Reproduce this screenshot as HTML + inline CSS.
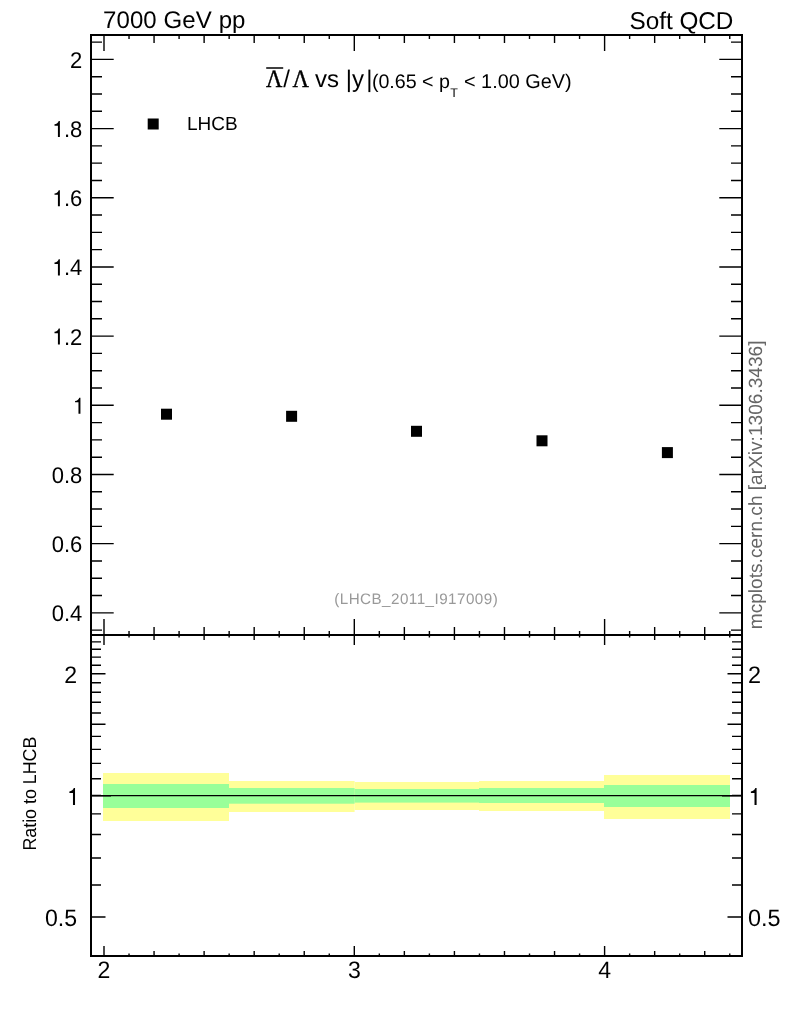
<!DOCTYPE html>
<html><head><meta charset="utf-8"><title>plot</title>
<style>html,body{margin:0;padding:0;background:#fff;}svg{display:block;}text{font-family:"Liberation Sans",sans-serif;}svg{will-change:transform;}text{text-rendering:geometricPrecision;}</style></head>
<body>
<svg width="786" height="1024" viewBox="0 0 786 1024">
<rect x="0" y="0" width="786" height="1024" fill="#fff"/>
<rect x="103" y="773" width="126.00" height="48.00" fill="#ffff99"/>
<rect x="229" y="781" width="125.60" height="31.00" fill="#ffff99"/>
<rect x="354.6" y="782" width="124.40" height="28.00" fill="#ffff99"/>
<rect x="479" y="781" width="125.00" height="30.00" fill="#ffff99"/>
<rect x="604" y="775" width="126.00" height="44.00" fill="#ffff99"/>
<rect x="103" y="784" width="126.00" height="24.00" fill="#99ff99"/>
<rect x="229" y="788" width="125.60" height="15.70" fill="#99ff99"/>
<rect x="354.6" y="789" width="124.40" height="13.60" fill="#99ff99"/>
<rect x="479" y="788" width="125.00" height="15.00" fill="#99ff99"/>
<rect x="604" y="785" width="126.00" height="22.00" fill="#99ff99"/>
<path d="M91.00 630.13H102.00M731.00 630.13H742.00M91.00 612.84H113.70M719.30 612.84H742.00M91.00 595.54H102.00M731.00 595.54H742.00M91.00 578.25H102.00M731.00 578.25H742.00M91.00 560.95H102.00M731.00 560.95H742.00M91.00 543.66H113.70M719.30 543.66H742.00M91.00 526.37H102.00M731.00 526.37H742.00M91.00 509.07H102.00M731.00 509.07H742.00M91.00 491.77H102.00M731.00 491.77H742.00M91.00 474.48H113.70M719.30 474.48H742.00M91.00 457.18H102.00M731.00 457.18H742.00M91.00 439.89H102.00M731.00 439.89H742.00M91.00 422.59H102.00M731.00 422.59H742.00M91.00 405.30H113.70M719.30 405.30H742.00M91.00 388.00H102.00M731.00 388.00H742.00M91.00 370.71H102.00M731.00 370.71H742.00M91.00 353.41H102.00M731.00 353.41H742.00M91.00 336.12H113.70M719.30 336.12H742.00M91.00 318.82H102.00M731.00 318.82H742.00M91.00 301.53H102.00M731.00 301.53H742.00M91.00 284.23H102.00M731.00 284.23H742.00M91.00 266.94H113.70M719.30 266.94H742.00M91.00 249.64H102.00M731.00 249.64H742.00M91.00 232.35H102.00M731.00 232.35H742.00M91.00 215.05H102.00M731.00 215.05H742.00M91.00 197.76H113.70M719.30 197.76H742.00M91.00 180.46H102.00M731.00 180.46H742.00M91.00 163.17H102.00M731.00 163.17H742.00M91.00 145.88H102.00M731.00 145.88H742.00M91.00 128.58H113.70M719.30 128.58H742.00M91.00 111.28H102.00M731.00 111.28H742.00M91.00 93.99H102.00M731.00 93.99H742.00M91.00 76.69H102.00M731.00 76.69H742.00M91.00 59.40H113.70M719.30 59.40H742.00M91.00 42.10H102.00M731.00 42.10H742.00M104.00 35.00V51.00M104.00 619.00V645.00M104.00 946.00V956.00M129.03 35.00V39.00M129.03 631.00V637.50M129.03 953.50V956.00M154.06 35.00V43.00M154.06 627.00V640.00M154.06 951.00V956.00M179.09 35.00V39.00M179.09 631.00V637.50M179.09 953.50V956.00M204.12 35.00V43.00M204.12 627.00V640.00M204.12 951.00V956.00M229.15 35.00V39.00M229.15 631.00V637.50M229.15 953.50V956.00M254.18 35.00V43.00M254.18 627.00V640.00M254.18 951.00V956.00M279.21 35.00V39.00M279.21 631.00V637.50M279.21 953.50V956.00M304.24 35.00V43.00M304.24 627.00V640.00M304.24 951.00V956.00M329.27 35.00V39.00M329.27 631.00V637.50M329.27 953.50V956.00M354.30 35.00V51.00M354.30 619.00V645.00M354.30 946.00V956.00M379.33 35.00V39.00M379.33 631.00V637.50M379.33 953.50V956.00M404.36 35.00V43.00M404.36 627.00V640.00M404.36 951.00V956.00M429.39 35.00V39.00M429.39 631.00V637.50M429.39 953.50V956.00M454.42 35.00V43.00M454.42 627.00V640.00M454.42 951.00V956.00M479.45 35.00V39.00M479.45 631.00V637.50M479.45 953.50V956.00M504.48 35.00V43.00M504.48 627.00V640.00M504.48 951.00V956.00M529.51 35.00V39.00M529.51 631.00V637.50M529.51 953.50V956.00M554.54 35.00V43.00M554.54 627.00V640.00M554.54 951.00V956.00M579.57 35.00V39.00M579.57 631.00V637.50M579.57 953.50V956.00M604.60 35.00V51.00M604.60 619.00V645.00M604.60 946.00V956.00M629.63 35.00V39.00M629.63 631.00V637.50M629.63 953.50V956.00M654.66 35.00V43.00M654.66 627.00V640.00M654.66 951.00V956.00M679.69 35.00V39.00M679.69 631.00V637.50M679.69 953.50V956.00M704.72 35.00V43.00M704.72 627.00V640.00M704.72 951.00V956.00M729.75 35.00V39.00M729.75 631.00V637.50M729.75 953.50V956.00M91.00 916.99H101.00M732.00 916.99H742.00M91.00 916.99H105.50M727.50 916.99H742.00M91.00 885.00H101.00M732.00 885.00H742.00M91.00 857.96H101.00M732.00 857.96H742.00M91.00 834.54H101.00M732.00 834.54H742.00M91.00 813.88H101.00M732.00 813.88H742.00M91.00 795.40H101.00M732.00 795.40H742.00M91.00 795.80H111.00M722.00 795.80H742.00M91.00 778.68H101.00M732.00 778.68H742.00M91.00 763.42H101.00M732.00 763.42H742.00M91.00 749.38H101.00M732.00 749.38H742.00M91.00 736.38H101.00M732.00 736.38H742.00M91.00 724.28H101.00M732.00 724.28H742.00M91.00 724.28H105.50M727.50 724.28H742.00M91.00 712.96H101.00M732.00 712.96H742.00M91.00 702.32H101.00M732.00 702.32H742.00M91.00 692.30H101.00M732.00 692.30H742.00M91.00 682.81H101.00M732.00 682.81H742.00M91.00 673.81H101.00M732.00 673.81H742.00M91.00 673.81H105.50M727.50 673.81H742.00M91.00 665.26H101.00M732.00 665.26H742.00M91.00 657.10H101.00M732.00 657.10H742.00M91.00 649.30H101.00M732.00 649.30H742.00M91.00 641.83H101.00M732.00 641.83H742.00" stroke="#000" stroke-width="1.4" fill="none"/>
<path d="M91.0 795.5H742.0" stroke="#000" stroke-width="1.25" fill="none"/>
<path d="M91.0 35.0H742.0V956.0H91.0Z M91.0 635.0H742.0" stroke="#000" stroke-width="2" fill="none" stroke-linejoin="miter"/>
<rect x="161.00" y="408.70" width="11" height="11" fill="#000"/>
<rect x="286.10" y="410.80" width="11" height="11" fill="#000"/>
<rect x="411.00" y="425.80" width="11" height="11" fill="#000"/>
<rect x="536.50" y="435.30" width="11" height="11" fill="#000"/>
<rect x="661.90" y="447.10" width="11" height="11" fill="#000"/>
<rect x="147.70" y="118.50" width="11" height="11" fill="#000"/>
<g transform="translate(82.30 621.34) scale(1.0 1.03)"><text x="-30.58" y="0" font-size="22">0.4</text></g>
<g transform="translate(82.30 552.16) scale(1.0 1.03)"><text x="-30.58" y="0" font-size="22">0.6</text></g>
<g transform="translate(82.30 482.98) scale(1.0 1.03)"><text x="-30.58" y="0" font-size="22">0.8</text></g>
<g transform="translate(84.50 413.80) scale(1.0 1.03)"><path transform="translate(-12.23 0) scale(0.02200 -0.02200)" d="M282 0V505H127V567C225 575 293 630 318 709H371V0Z" fill="#000"/></g>
<g transform="translate(82.30 344.62) scale(1.0 1.03)"><path transform="translate(-30.58 0) scale(0.02200 -0.02200)" d="M282 0V505H127V567C225 575 293 630 318 709H371V0Z" fill="#000"/><text x="-18.35" y="0" font-size="22">.2</text></g>
<g transform="translate(82.30 275.44) scale(1.0 1.03)"><path transform="translate(-30.58 0) scale(0.02200 -0.02200)" d="M282 0V505H127V567C225 575 293 630 318 709H371V0Z" fill="#000"/><text x="-18.35" y="0" font-size="22">.4</text></g>
<g transform="translate(82.30 206.26) scale(1.0 1.03)"><path transform="translate(-30.58 0) scale(0.02200 -0.02200)" d="M282 0V505H127V567C225 575 293 630 318 709H371V0Z" fill="#000"/><text x="-18.35" y="0" font-size="22">.6</text></g>
<g transform="translate(82.30 137.08) scale(1.0 1.03)"><path transform="translate(-30.58 0) scale(0.02200 -0.02200)" d="M282 0V505H127V567C225 575 293 630 318 709H371V0Z" fill="#000"/><text x="-18.35" y="0" font-size="22">.8</text></g>
<g transform="translate(82.30 67.90) scale(1.0 1.03)"><text x="-12.23" y="0" font-size="22">2</text></g>
<g transform="translate(77.00 683.31) scale(1.0 1.03)"><text x="-12.84" y="0" font-size="23.1">2</text></g>
<g transform="translate(747.90 683.31) scale(1.015 1.03)"><text x="0.00" y="0" font-size="23.1">2</text></g>
<g transform="translate(79.30 804.90) scale(1.0 1.03)"><path transform="translate(-12.84 0) scale(0.02310 -0.02310)" d="M282 0V505H127V567C225 575 293 630 318 709H371V0Z" fill="#000"/></g>
<g transform="translate(747.90 804.90) scale(1.015 1.03)"><path transform="translate(0.00 0) scale(0.02310 -0.02310)" d="M282 0V505H127V567C225 575 293 630 318 709H371V0Z" fill="#000"/></g>
<g transform="translate(77.00 926.49) scale(1.0 1.03)"><text x="-32.11" y="0" font-size="23.1">0.5</text></g>
<g transform="translate(747.90 926.49) scale(1.015 1.03)"><text x="0.00" y="0" font-size="23.1">0.5</text></g>
<g transform="translate(104.00 978.20) scale(1.0 1.03)"><text x="-6.42" y="0" font-size="23.1">2</text></g>
<g transform="translate(354.30 978.20) scale(1.0 1.03)"><text x="-6.42" y="0" font-size="23.1">3</text></g>
<g transform="translate(604.60 978.20) scale(1.0 1.03)"><text x="-6.42" y="0" font-size="23.1">4</text></g>
<text x="103.00" y="28.20" font-size="24" text-anchor="start" fill="#000" font-family="'Liberation Sans', sans-serif" letter-spacing="0.1">7000 GeV pp</text>
<text x="733.40" y="28.70" font-size="24.3" text-anchor="end" fill="#000" font-family="'Liberation Sans', sans-serif" >Soft QCD</text>
<text x="187.00" y="130.00" font-size="19" text-anchor="start" fill="#000" font-family="'Liberation Sans', sans-serif" >LHCB</text>
<text x="416.20" y="603.70" font-size="15.2" text-anchor="middle" fill="#999" font-family="'Liberation Sans', sans-serif" letter-spacing="0.47">(LHCB_2011_I917009)</text>
<text transform="translate(762.1 629.2) rotate(-90)" font-size="19.1" fill="#666" font-family="'Liberation Sans', sans-serif">mcplots.cern.ch [arXiv:1306.3436]</text>
<text transform="translate(36.3 850.6) rotate(-90) scale(1.003 1.05)" font-size="17.8" fill="#000" font-family="'Liberation Sans', sans-serif">Ratio to LHCB</text>
<path d="M266.2 68H283.2" stroke="#000" stroke-width="1.5" fill="none"/>
<text transform="translate(265.9 87) scale(0.9 1)" font-size="25.2" fill="#000" stroke="#000" stroke-width="0.45" style="font-family:'Liberation Serif',serif">Λ</text>
<text transform="translate(292.6 87) scale(0.9 1)" font-size="25.2" fill="#000" stroke="#000" stroke-width="0.45" style="font-family:'Liberation Serif',serif">Λ</text>
<text y="87" font-size="24" fill="#000" font-family="'Liberation Sans', sans-serif"><tspan x="283.2">/</tspan><tspan x="315">vs |y</tspan><tspan x="366.2">|</tspan><tspan x="371.9" y="87.5" font-size="19.65">(0.65 &lt; p</tspan><tspan x="450.3" y="97.2" font-size="12.5">T</tspan><tspan x="464" y="87.5" font-size="19.85">&lt; 1.00 GeV)</tspan></text>
</svg>
</body></html>
